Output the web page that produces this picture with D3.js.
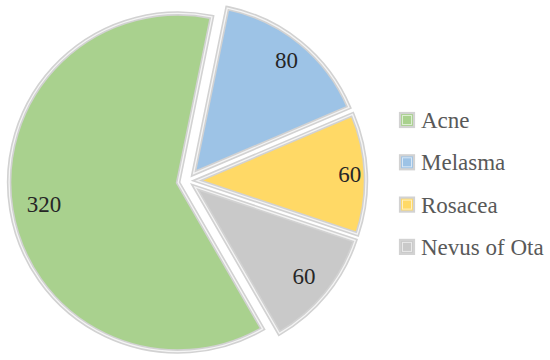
<!DOCTYPE html>
<html><head><meta charset="utf-8"><script src="https://cdn.jsdelivr.net/npm/d3@7"></script></head>
<body style="margin:0">
<svg id="s" width="550" height="360"></svg>
<script>
const categories = ["Acne", "Melasma", "Rosacea", "Nevus of Ota"];
const values = [320, 80, 60, 60];
const colors = ["#a9d18e", "#9dc3e6", "#ffd966", "#c9c9c9"];

const svg = d3.select("#s");
const cx = 187.5, cy = 181;
const R = 169;
const explode = 9.5;

const start = 150 * Math.PI / 180;
const pie = d3.pie().sort(null).value(d => d.v)
  .startAngle(start).endAngle(start + 2 * Math.PI);
const data = pie(categories.map((c, i) => ({ c, v: values[i], col: colors[i] })));
const arc = d3.arc().innerRadius(0).outerRadius(R);
const mid = d => (d.startAngle + d.endAngle) / 2;

const slices = svg.selectAll("g.slice").data(data).enter().append("g")
  .attr("class", "slice")
  .attr("transform", d => `translate(${cx + Math.sin(mid(d)) * explode},${cy - Math.cos(mid(d)) * explode})`);

slices.append("path")
  .attr("d", arc)
  .attr("fill", d => d.data.col)
  .attr("stroke", "#d2d2d2")
  .attr("stroke-width", 4.5)
  .attr("stroke-linejoin", "miter");
slices.append("path")
  .attr("d", arc)
  .attr("fill", "none")
  .attr("stroke", "rgba(255,255,255,0.75)")
  .attr("stroke-width", 1.3);

// Value labels appended directly to the svg root, absolute positions
const labelR = [136, 147, 153, 141];
data.forEach((d, i) => {
  const a = mid(d);
  svg.append("text")
    .attr("x", cx + Math.sin(a) * (explode + labelR[i]))
    .attr("y", cy - Math.cos(a) * (explode + labelR[i]) + 8)
    .attr("text-anchor", "middle")
    .attr("font-size", 23)
    .attr("font-family", "Liberation Serif")
    .attr("fill", "#262626")
    .text(d.data.v);
});

// Legend
categories.forEach((c, i) => {
  const y = 120 + i * 42.3;
  svg.append("rect")
    .attr("x", 400).attr("y", y - 7).attr("width", 14).attr("height", 14)
    .attr("fill", colors[i])
    .attr("stroke", "#d2d2d2").attr("stroke-width", 2.2);
  svg.append("rect")
    .attr("x", 402.5).attr("y", y - 4.5).attr("width", 9).attr("height", 9)
    .attr("fill", "none")
    .attr("stroke", "rgba(255,255,255,0.6)").attr("stroke-width", 1);
  svg.append("text")
    .attr("x", 421).attr("y", y + 8)
    .attr("font-size", 23)
    .attr("font-family", "Liberation Serif")
    .attr("fill", "#595959")
    .text(c);
});
</script>
</body></html>
